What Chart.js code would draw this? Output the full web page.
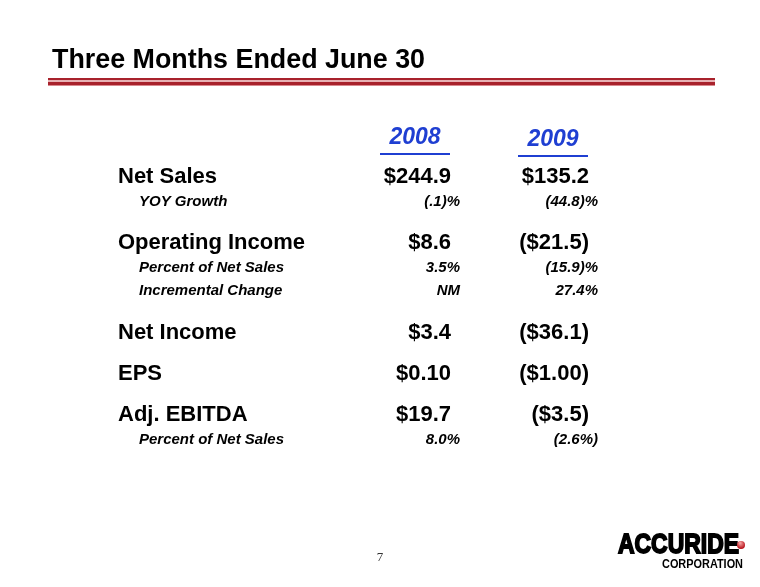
<!DOCTYPE html>
<html>
<head>
<meta charset="utf-8">
<script src="https://cdn.jsdelivr.net/npm/chart.js@4.4.1/dist/chart.umd.min.js"></script>
<style>
  html, body { margin: 0; padding: 0; background: #ffffff; }
  #wrap { width: 760px; height: 587px; position: relative; }
</style>
</head>
<body>
<div id="wrap"><canvas id="slide"></canvas></div>
<script>
// ---------------- data ----------------
const title = 'Three Months Ended June 30';
const years = ['2008', '2009'];
const rowLabels = ['Net Sales', 'YOY Growth', 'Operating Income', 'Percent of Net Sales',
                   'Incremental Change', 'Net Income', 'EPS', 'Adj. EBITDA', 'Percent of Net Sales'];
const rowKinds = ['main', 'sub', 'main', 'sub', 'sub', 'main', 'main', 'main', 'sub'];
const values2008 = ['$244.9', '(.1)%', '$8.6', '3.5%', 'NM', '$3.4', '$0.10', '$19.7', '8.0%'];
const values2009 = ['$135.2', '(44.8)%', '($21.5)', '(15.9)%', '27.4%', '($36.1)', '($1.00)', '($3.5)', '(2.6%)'];
const pageNumber = '7';

// row spacing in "lines" (one line = a main row)
const rowPos = [];
let acc = 0;
rowKinds.forEach((k, i) => {
	if (i == 0) acc += 0.95;
	else if (k == 'main') acc += 1;
	else if (rowKinds[i - 1] == 'main') acc += 0.62;
	else acc += 0.56;
	rowPos.push(acc);
});

const FONT = '"Liberation Sans", Arial, Helvetica, sans-serif';
const LABEL_LEFT = 118;
const BLUE = '#1f3fd2';

// ---------------- drawing plugin ----------------
const slidePlugin = {
	id: 'slide',
	afterDraw(chart) {
		const ctx = chart.ctx;
		const xs = chart.scales.x, ys = chart.scales.y;
		ctx.save();
		ctx.fillStyle = '#000';
		ctx.textBaseline = 'alphabetic';
		ctx.textAlign = 'left';

		// title
		ctx.font = 'bold 27px ' + FONT;
		var tw = ctx.measureText(title).width;
		ctx.save();
		ctx.translate(52, 68);
		ctx.scale(373 / tw, 1);
		ctx.fillText(title, 0, 0);
		ctx.restore();

		// red rule
		ctx.fillStyle = '#a8222c'; ctx.fillRect(48, 78, 667, 2);
		ctx.fillStyle = '#e8b2b5'; ctx.fillRect(48, 80, 667, 2);
		ctx.fillStyle = '#a8222c'; ctx.fillRect(48, 82, 667, 3);
		ctx.fillStyle = '#d9898f'; ctx.fillRect(48, 85, 667, 1);

		// year headers
		var y0 = ys.getPixelForValue(0);
		years.forEach((yr, i) => {
			var cx = xs.getPixelForValue(i);
			ctx.fillStyle = BLUE;
			ctx.font = 'italic bold 23px ' + FONT;
			ctx.textAlign = 'center';
			ctx.fillText(yr, cx, y0 + 8 + i * 2);
			ctx.fillRect(cx - 35, y0 + 17 + i * 2, 70, 2);
		});

		// row labels
		ctx.fillStyle = '#000';
		ctx.textAlign = 'left';
		rowLabels.forEach((lab, i) => {
			var y = ys.getPixelForValue(rowPos[i]);
			if (rowKinds[i] == 'main') {
				ctx.font = 'bold 22px ' + FONT;
				ctx.fillText(lab, LABEL_LEFT, y + 8);
			} else {
				ctx.font = 'italic bold 15px ' + FONT;
				ctx.fillText(lab, LABEL_LEFT + 21, y + 5.5);
			}
		});

		// value cells, placed by the dataset points
		ctx.textAlign = 'right';
		chart.data.datasets.forEach((ds, d) => {
			var meta = chart.getDatasetMeta(d);
			meta.data.forEach((pt, i) => {
				var txt = ds.cells[i];
				if (rowKinds[i] == 'main') {
					ctx.font = 'bold 22px ' + FONT;
					ctx.fillText(txt, pt.x + 36, pt.y + 8);
				} else {
					ctx.font = 'italic bold 15px ' + FONT;
					ctx.fillText(txt, pt.x + 45, pt.y + 5.5);
				}
			});
		});

		// page number
		ctx.textAlign = 'center';
		ctx.fillStyle = '#333';
		ctx.font = '13px "Liberation Serif", "Times New Roman", serif';
		ctx.fillText(pageNumber, 380, 561);

		// logo
		ctx.textAlign = 'left';
		ctx.fillStyle = '#000';
		ctx.font = 'bold 28px ' + FONT;
		var lw = ctx.measureText('ACCURIDE').width;
		ctx.save();
		ctx.translate(618, 553);
		ctx.scale(121 / lw, 1);
		ctx.lineWidth = 1.8;
		ctx.strokeStyle = '#000';
		ctx.fillText('ACCURIDE', 0, 0);
		ctx.strokeText('ACCURIDE', 0, 0);
		ctx.restore();
		var g = ctx.createRadialGradient(740, 543, 0.5, 741, 544, 4.5);
		g.addColorStop(0, '#f4a0a0');
		g.addColorStop(1, '#b8141c');
		ctx.fillStyle = g;
		ctx.beginPath();
		ctx.arc(741, 545, 4, 0, Math.PI * 2);
		ctx.fill();
		ctx.fillStyle = '#000';
		ctx.font = 'bold 12px ' + FONT;
		var cw = ctx.measureText('CORPORATION').width;
		ctx.save();
		ctx.translate(662, 568);
		ctx.scale(81 / cw, 1);
		ctx.fillText('CORPORATION', 0, 0);
		ctx.restore();

		ctx.restore();
	}
};

// ---------------- chart ----------------
var ctx = document.getElementById('slide').getContext('2d');
var slide = new Chart(ctx, {
	type: 'line',
	data: {
		labels: years,
		datasets: [
			{ label: years[0], cells: values2008, data: rowPos.map(p => ({ x: years[0], y: p })) },
			{ label: years[1], cells: values2009, data: rowPos.map(p => ({ x: years[1], y: p })) }
		]
	},
	options: {
		responsive: true,
		maintainAspectRatio: false,
		animation: false,
		showLine: false,
		elements: { point: { radius: 0, hoverRadius: 0 } },
		layout: { padding: { left: 346, right: 138, top: 136, bottom: 41 } },
		plugins: { legend: { display: false }, tooltip: { enabled: false } },
		scales: {
			x: { type: 'category', offset: true, display: false },
			y: { type: 'linear', reverse: true, min: 0, max: 10, display: false }
		}
	},
	plugins: [slidePlugin]
});
</script>
</body>
</html>
